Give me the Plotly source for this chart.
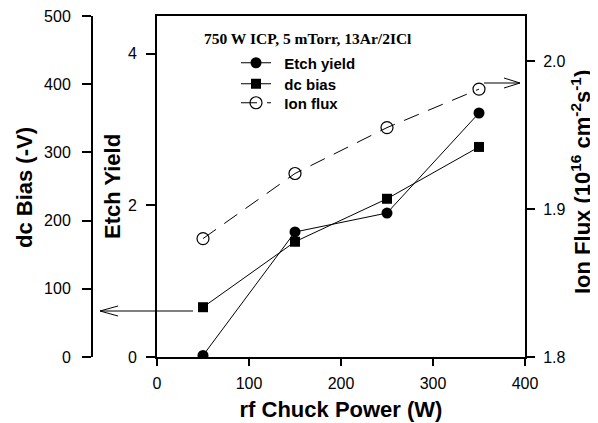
import plotly.graph_objects as go

# The page body has an 8px default margin, so the figure is offset by 8px.
OFF = 8
W, H = 598 - OFF, 423 - OFF

power = [50, 150, 250, 350]
etch_yield = [0.02, 1.65, 1.90, 3.22]
dc_bias = [73, 169, 232, 308]
ion_flux = [1.880, 1.924, 1.955, 1.981]

x_ticks = [0, 100, 200, 300, 400]
dc_ticks = [0, 100, 200, 300, 400, 500]
ey_ticks = [0, 2, 4]
if_ticks = [1.8, 1.9, 2.0]

def px(x):
    return (x - OFF) / W

def py(y):
    return 1 - (y - OFF) / H

font_axis = dict(family="Liberation Sans, Arial", size=16, color="black")
font_title = dict(family="Liberation Sans, Arial", size=22, color="black")
font_leg = dict(family="Liberation Sans, Arial", size=15, color="black")

NB = "\u00a0\u00a0"

fig = go.Figure()

fig.add_trace(go.Scatter(
    x=power, y=etch_yield, name=NB + "<b>Etch yield</b>", mode="lines+markers",
    line=dict(color="black", width=1),
    marker=dict(symbol="circle", size=11, color="black"),
    xaxis="x", yaxis="y", legend="legend"))
fig.add_trace(go.Scatter(
    x=power, y=dc_bias, name=NB + "<b>dc bias</b>", mode="lines+markers",
    line=dict(color="black", width=1),
    marker=dict(symbol="square", size=10, color="black"),
    xaxis="x", yaxis="y2", legend="legend2"))
fig.add_trace(go.Scatter(
    x=power, y=ion_flux, name=NB + "<b>Ion flux</b>", mode="lines+markers",
    line=dict(color="black", width=1, dash="16px,10px"),
    marker=dict(symbol="circle-open", size=12, color="black", line=dict(width=1.2)),
    xaxis="x", yaxis="y3", legend="legend3"))

x0, x1 = px(157), px(525)
y0, y1 = py(357), py(16)

def leg(yc):
    return dict(x=px(236), y=py(yc), xanchor="left", yanchor="middle",
                font=font_leg, bgcolor="rgba(0,0,0,0)", itemwidth=30)

common_y = dict(tickwidth=2, tickcolor="black", showline=True, linewidth=2,
                linecolor="black", showgrid=False, zeroline=False,
                tickfont=font_axis, automargin=False, ticks="outside",
                ticklabeloverflow="allow")

fig.update_layout(
    width=W, height=H,
    margin=dict(l=0, r=0, t=0, b=0, autoexpand=False),
    paper_bgcolor="white", plot_bgcolor="white",
    showlegend=True,
    legend=leg(63), legend2=leg(84), legend3=leg(103),
    xaxis=dict(domain=[x0, x1], range=[0, 400], tickvals=x_ticks,
               ticklen=7, mirror=True, ticklabelstandoff=4,
               title=dict(text="<b>rf Chuck Power (W)</b>", font=font_title, standoff=10),
               anchor="y", **common_y),
    yaxis=dict(domain=[y0, y1], range=[0, 4.5], tickvals=ey_ticks,
               ticklen=9, ticklabelstandoff=6, anchor="x", **common_y),
    yaxis2=dict(domain=[y0, y1], range=[0, 500], tickvals=dc_ticks,
                overlaying="y", side="left", anchor="free", position=px(92),
                ticklen=9, ticklabelstandoff=8, **common_y),
    yaxis3=dict(domain=[y0, y1], range=[1.8, 1.8 + 0.1 * 341 / 148], tickvals=if_ticks,
                tickformat=".1f", overlaying="y", side="right", anchor="x",
                ticklen=8, ticklabelstandoff=5, **common_y),
)

# y-axis titles
for text, xc, yc in [
    ("<b>dc Bias (-V)</b>", 24, 188),
    ("<b>Etch Yield</b>", 112, 187),
    ("<b>Ion Flux (10<sup>16</sup> cm<sup>-2</sup>s<sup>-1</sup>)</b>", 581, 182),
]:
    fig.add_annotation(text=text, xref="paper", yref="paper", x=px(xc), y=py(yc),
                       xanchor="center", yanchor="middle", textangle=-90,
                       showarrow=False, font=font_title)

fig.add_annotation(
    text="<b>750 W ICP, 5 mTorr, 13Ar/2ICl</b>", xref="paper", yref="paper",
    x=px(308), y=py(39), xanchor="center", yanchor="middle", showarrow=False,
    font=dict(family="Liberation Serif, Times New Roman", size=15.5, color="black"))

# arrows (open chevrons)
arrow_style = dict(color="black", width=1)
shapes = [
    # left arrow to dc bias axis
    ((193, 311), (100, 311)), ((100, 311), (118, 306)), ((100, 311), (118, 316)),
    # right arrow to ion flux axis
    ((484, 83), (520, 83)), ((520, 83), (504, 78)), ((520, 83), (504, 88)),
]
for (ax_, ay_), (bx_, by_) in shapes:
    fig.add_shape(type="line", xref="paper", yref="paper",
                  x0=px(ax_), y0=py(ay_), x1=px(bx_), y1=py(by_), line=arrow_style)

fig.write_html("out.html")
